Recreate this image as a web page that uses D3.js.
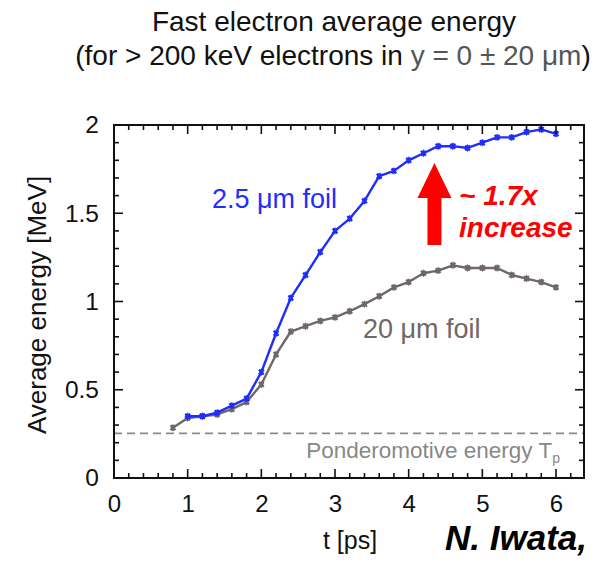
<!DOCTYPE html>
<html>
<head>
<meta charset="utf-8">
<script src="https://cdn.jsdelivr.net/npm/d3@7"></script>
<style>
  html, body { margin: 0; padding: 0; background: #fff; }
  svg { display: block; font-family: "Liberation Sans", Arial, Helvetica, sans-serif; }
</style>
</head>
<body>
<svg id="chart" width="606" height="563"></svg>
<script>
// Time axis samples (ps)
const timeThin = [1.0, 1.2, 1.4, 1.6, 1.8, 2.0, 2.2, 2.4, 2.6, 2.8, 3.0, 3.2, 3.4, 3.6, 3.8,
                  4.0, 4.2, 4.4, 4.6, 4.8, 5.0, 5.2, 5.4, 5.6, 5.8, 6.0];
const timeThick = [0.8, 1.0, 1.2, 1.4, 1.6, 1.8, 2.0, 2.2, 2.4, 2.6, 2.8, 3.0, 3.2, 3.4, 3.6, 3.8,
                   4.0, 4.2, 4.4, 4.6, 4.8, 5.0, 5.2, 5.4, 5.6, 5.8, 6.0];
// Average energy (MeV), 2.5 um foil
const energyThin = [0.35, 0.35, 0.37, 0.41, 0.45, 0.60, 0.82, 1.02, 1.15, 1.28, 1.40, 1.47, 1.57,
                    1.71, 1.74, 1.80, 1.84, 1.88, 1.88, 1.87, 1.90, 1.93, 1.93, 1.96, 1.975, 1.95];
// Average energy (MeV), 20 um foil
const energyThick = [0.285, 0.34, 0.35, 0.36, 0.39, 0.43, 0.53, 0.70, 0.83, 0.86, 0.89, 0.91, 0.945,
                     0.985, 1.03, 1.08, 1.11, 1.16, 1.175, 1.205, 1.19, 1.19, 1.19, 1.15, 1.13, 1.11, 1.08];
const ponderomotive = 0.253;
const xTicks = [0, 1, 2, 3, 4, 5, 6];
const yTicks = [0, 0.5, 1, 1.5, 2];

const svg = d3.select("#chart");
const plot = { left: 114, right: 584, top: 125, bottom: 478 };

const x = d3.scaleLinear().domain([0, 6.38]).range([plot.left, plot.right]);
const y = d3.scaleLinear().domain([0, 2]).range([plot.bottom, plot.top]);

const blue = "#1f2dff";
const gray = "#6f6866";

// Title
svg.append("text").attr("x", 334).attr("y", 31).attr("text-anchor", "middle")
  .attr("font-size", 28).attr("fill", "#111").text("Fast electron average energy");
const sub = svg.append("text").attr("x", 333).attr("y", 65).attr("text-anchor", "middle")
  .attr("font-size", 28).attr("fill", "#111");
sub.append("tspan").text("(for > 200 keV electrons in ");
sub.append("tspan").attr("fill", "#555").text("y = 0 \u00B1 20 \u03BCm");
sub.append("tspan").text(")");

// Ponderomotive reference line
svg.append("line")
  .attr("x1", plot.left).attr("x2", plot.right)
  .attr("y1", y(ponderomotive)).attr("y2", y(ponderomotive))
  .attr("stroke", "#8a8a8a").attr("stroke-width", 1.6).attr("stroke-dasharray", "8,5");
const pt = svg.append("text").attr("x", 560).attr("y", 458).attr("text-anchor", "end")
  .attr("font-size", 22.5).attr("fill", "#888");
pt.append("tspan").text("Ponderomotive energy T");
pt.append("tspan").attr("font-size", 14).attr("dy", 5).text("p");

// Series lines
const line = d3.line().x(d => x(d[0])).y(d => y(d[1]));
function drawSeries(ts, vs, color) {
  const pts = ts.map((t, i) => [t, vs[i]]);
  svg.append("path").datum(pts).attr("d", line)
    .attr("fill", "none").attr("stroke", color).attr("stroke-width", 2.4)
    .attr("stroke-linejoin", "round");
  const sym = d3.symbol().type(d3.symbolCross).size(26);
  svg.append("g").selectAll("path").data(pts).join("path")
    .attr("d", sym)
    .attr("transform", d => `translate(${x(d[0])},${y(d[1])}) rotate(45)`)
    .attr("fill", color);
  svg.append("g").selectAll("path").data(pts).join("path")
    .attr("d", d3.symbol().type(d3.symbolDiamond).size(18))
    .attr("transform", d => `translate(${x(d[0])},${y(d[1])})`)
    .attr("fill", color);
}
drawSeries(timeThick, energyThick, gray);
drawSeries(timeThin, energyThin, blue);

// Frame with inward ticks on all sides
const frame = svg.append("g");
frame.append("rect").attr("x", plot.left).attr("y", plot.top)
  .attr("width", plot.right - plot.left).attr("height", plot.bottom - plot.top)
  .attr("fill", "none").attr("stroke", "#111").attr("stroke-width", 2);

const xMinor = d3.range(0, 6.39, 0.2);
const yMinor = d3.range(0, 2.001, 0.1);
function isMajor(v, step) { return Math.abs(v / step - Math.round(v / step)) < 1e-6; }

xMinor.forEach(v => {
  const len = isMajor(v, 1) ? 9 : 5;
  const px = x(v);
  frame.append("line").attr("x1", px).attr("x2", px).attr("y1", plot.bottom).attr("y2", plot.bottom - len)
    .attr("stroke", "#111").attr("stroke-width", 1.6);
  frame.append("line").attr("x1", px).attr("x2", px).attr("y1", plot.top).attr("y2", plot.top + len)
    .attr("stroke", "#111").attr("stroke-width", 1.6);
});
yMinor.forEach(v => {
  const len = isMajor(v, 0.5) ? 9 : 5;
  const py = y(v);
  frame.append("line").attr("x1", plot.left).attr("x2", plot.left + len).attr("y1", py).attr("y2", py)
    .attr("stroke", "#111").attr("stroke-width", 1.6);
  frame.append("line").attr("x1", plot.right).attr("x2", plot.right - len).attr("y1", py).attr("y2", py)
    .attr("stroke", "#111").attr("stroke-width", 1.6);
});

// Tick labels via axis generators
const xAxis = d3.axisBottom(x).tickValues(xTicks).tickSize(0).tickPadding(0).tickFormat(d3.format("d"));
const gx = svg.append("g").attr("transform", `translate(0,${plot.bottom + 17})`).call(xAxis);
gx.select(".domain").remove();
gx.selectAll("text").attr("font-size", 24).attr("fill", "#111").attr("font-family", "Liberation Sans, Arial, sans-serif");

const yAxis = d3.axisLeft(y).tickValues(yTicks).tickSize(0).tickPadding(0).tickFormat(d => d3.format("")(d));
const gy = svg.append("g").attr("transform", `translate(${plot.left - 15},0)`).call(yAxis);
gy.select(".domain").remove();
gy.selectAll("text").attr("font-size", 24.5).attr("fill", "#111").attr("font-family", "Liberation Sans, Arial, sans-serif");

// Axis titles
svg.append("text").attr("x", 350).attr("y", 549).attr("text-anchor", "middle")
  .attr("font-size", 25).attr("fill", "#111").text("t [ps]");
svg.append("text").attr("transform", "translate(46,305) rotate(-90)").attr("text-anchor", "middle")
  .attr("font-size", 26).attr("fill", "#111").text("Average energy [MeV]");

// Series labels
svg.append("text").attr("x", 212).attr("y", 208).attr("font-size", 27).attr("fill", blue)
  .text("2.5 \u03BCm foil");
svg.append("text").attr("x", 363).attr("y", 338).attr("font-size", 27).attr("fill", gray)
  .text("20 \u03BCm foil");

// Increase arrow and annotation
const ax = x(4.35);
const arrow = d3.path();
arrow.moveTo(ax, 163);
arrow.lineTo(ax + 17, 198);
arrow.lineTo(ax + 7, 198);
arrow.lineTo(ax + 7, 245);
arrow.lineTo(ax - 7, 245);
arrow.lineTo(ax - 7, 198);
arrow.lineTo(ax - 17, 198);
arrow.closePath();
svg.append("path").attr("d", arrow.toString()).attr("fill", "#ff0000");

svg.append("text").attr("x", 459).attr("y", 205).attr("font-size", 28)
  .attr("font-weight", "bold").attr("font-style", "italic").attr("fill", "#ff0000").text("~ 1.7x");
svg.append("text").attr("x", 459).attr("y", 237).attr("font-size", 28)
  .attr("font-weight", "bold").attr("font-style", "italic").attr("fill", "#ff0000").text("increase");

// Credit
svg.append("text").attr("x", 445).attr("y", 550).attr("font-size", 35)
  .attr("font-weight", "bold").attr("font-style", "italic").attr("fill", "#000").text("N. Iwata,");
</script>
</body>
</html>
